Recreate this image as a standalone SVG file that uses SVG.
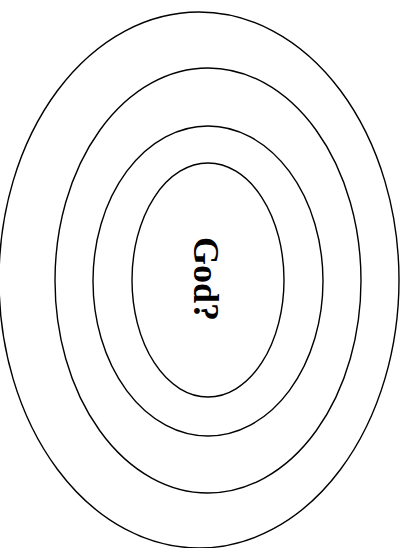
<svg xmlns="http://www.w3.org/2000/svg" width="411" height="548" viewBox="0 0 411 548">
<style>
.ring{fill:none;stroke:#000;stroke-width:1.4}
.lbl{font-family:"Liberation Serif","Times New Roman",serif;font-weight:bold;font-size:36px;fill:#000}
</style>
<rect width="411" height="548" fill="#fff"/>
<g id="ring1"><ellipse class="ring" cx="199" cy="280" rx="200" ry="268"/></g>
<g id="ring2"><ellipse class="ring" cx="208" cy="280.5" rx="153" ry="212.5"/></g>
<g id="ring3"><ellipse class="ring" cx="208" cy="281" rx="115" ry="155"/></g>
<g id="ring4"><ellipse class="ring" cx="208" cy="280" rx="76" ry="117"/></g>
<g id="god"><text class="lbl" transform="translate(194,279) rotate(90)" text-anchor="middle">God?</text></g>
</svg>
